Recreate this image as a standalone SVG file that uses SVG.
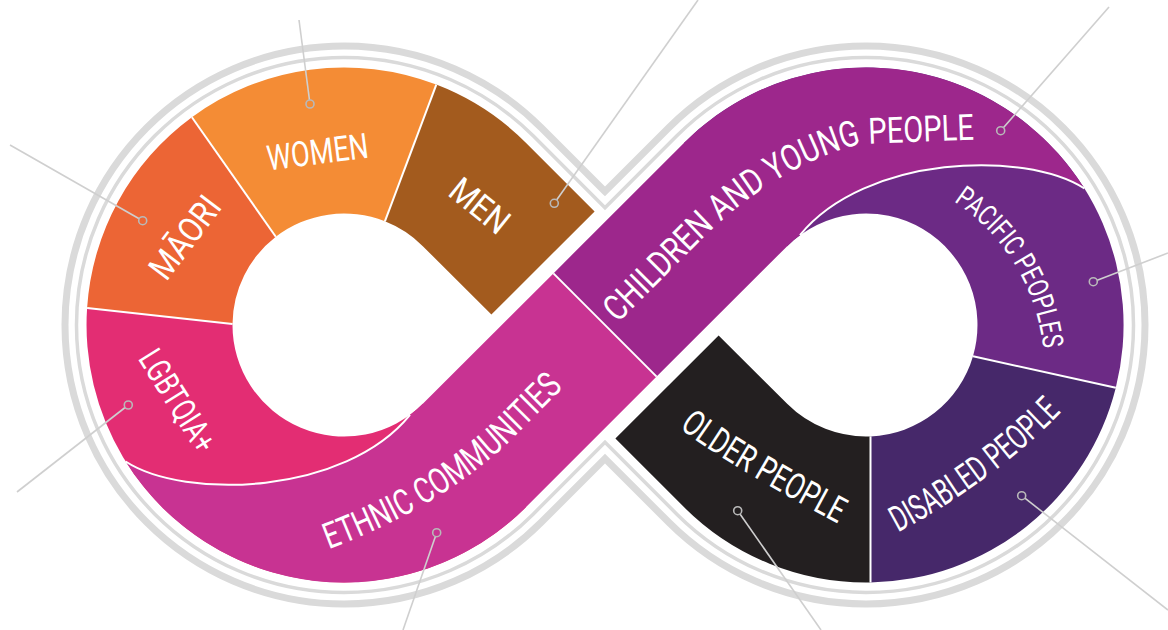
<svg xmlns="http://www.w3.org/2000/svg" xmlns:xlink="http://www.w3.org/1999/xlink" width="1168" height="630" viewBox="0 0 1168 630">
<style>
.lbl{font-family:"Roboto","Liberation Sans",sans-serif;font-weight:400;fill:#ffffff;}
.ring{fill:none;stroke:#dadada;stroke-linejoin:miter;}
.div{fill:none;stroke:#ffffff;stroke-width:2;}
.lead{stroke:#cfcfcf;stroke-width:1.6;fill:none;}
.dot{stroke:#b9b9b9;stroke-width:1.6;}
</style>
<defs>
<path id="p-eth" d="M 310,556 C 390,528 450,495 505,446 L 600,351"/>
<path id="p-chi" d="M 600,341 L 700,241 C 735,206 790,162 860,144 L 990,139"/>
<path id="p-pac" d="M 943.5,195.1 A 202 202 0 0 1 1041.4,405.1"/>
<path id="p-old" d="M 668,418 Q 706,454 848,529"/>
<path id="p-dis" d="M 885.6,539.1 Q 1005.5,477 1079.9,392"/>
<path id="eth-shape" d="M 125.6,461.5 A 257.5 257.5 0 0 0 526.08,507.08 L 656.6,376.6 L 553.4,273.4 L 422.84,403.84 A 111.5 111.5 0 0 1 410,414.9 C 345,495 185,500 125.6,461.5 Z"/>
</defs>

<g id="rings">
<path class="ring" stroke-width="3.5" d="M 605,207.7 L 533.15,135.85 A 267.5 267.5 0 1 0 533.15,514.15 L 605,442.3 L 676.85,514.15 A 267.5 267.5 0 1 0 676.85,135.85 Z"/>
<path class="ring" stroke-width="7" d="M 605,191.4 L 541.28,127.72 A 279 279 0 1 0 541.28,522.28 L 605,458.6 L 668.72,522.28 A 279 279 0 1 0 668.72,127.72 Z"/>
</g>

<g id="lgbtqia">
<path fill="#e32d73" d="M 232.5,324 A 111.5 111.5 0 0 0 422.84,403.84 L 526.08,507.08 A 257.5 257.5 0 0 1 87.1,307.9 Z"/>
<text class="lbl" font-size="34" text-anchor="middle" textLength="114" lengthAdjust="spacingAndGlyphs" transform="translate(167.8,406.9) rotate(58)">LGBTQIA+</text>
</g>
<g id="maori">
<path fill="#ec6535" d="M 87.1,307.9 A 257.5 257.5 0 0 1 191.9,117.2 L 275.8,236.8 A 111.5 111.5 0 0 0 232.5,324 Z"/>
<text class="lbl" font-size="35" text-anchor="middle" textLength="94" lengthAdjust="spacingAndGlyphs" transform="translate(194.6,244.7) rotate(-53)">MĀORI</text>
</g>
<g id="women">
<path fill="#f48c35" d="M 191.9,117.2 A 257.5 257.5 0 0 1 436.3,84.6 L 384.9,221.3 A 111.5 111.5 0 0 0 275.8,236.8 Z"/>
<text class="lbl" font-size="35" text-anchor="middle" textLength="102" lengthAdjust="spacingAndGlyphs" transform="translate(319.1,163.9) rotate(-7.3)">WOMEN</text>
</g>
<g id="men">
<path fill="#a35b1e" d="M 436.3,84.6 A 257.5 257.5 0 0 1 526.08,142.92 L 594.6,211.4 L 491.4,314.6 L 422.84,246.16 A 111.5 111.5 0 0 0 384.9,221.3 Z"/>
<text class="lbl" font-size="35" text-anchor="middle" textLength="66" lengthAdjust="spacingAndGlyphs" transform="translate(472.1,215.2) rotate(39)">MEN</text>
</g>
<g id="pacific">
<path fill="#6c2a85" d="M 973,356.3 L 1115.8,387.7 A 257.5 257.5 0 0 0 683.92,142.92 L 787.16,246.16 A 111.5 111.5 0 0 1 973,356.3 Z"/>
<text class="lbl" font-size="29"><textPath xlink:href="#p-pac" href="#p-pac" startOffset="12" textLength="178" lengthAdjust="spacingAndGlyphs">PACIFIC PEOPLES</textPath></text>
</g>
<g id="disabled">
<path fill="#46286a" d="M 870.5,582.5 A 257.5 257.5 0 0 0 1115.8,387.7 L 973,356.3 A 111.5 111.5 0 0 1 870.5,436.4 Z"/>
<text class="lbl" font-size="36"><textPath xlink:href="#p-dis" href="#p-dis" startOffset="14" textLength="204" lengthAdjust="spacingAndGlyphs">DISABLED PEOPLE</textPath></text>
</g>
<g id="older">
<path fill="#231f20" d="M 870.5,582.5 A 257.5 257.5 0 0 1 683.92,507.08 L 615.4,438.6 L 718.6,335.4 L 787.16,403.84 A 111.5 111.5 0 0 0 870.5,436.4 Z"/>
<text class="lbl" font-size="36"><textPath xlink:href="#p-old" href="#p-old" startOffset="15" textLength="186" lengthAdjust="spacingAndGlyphs">OLDER PEOPLE</textPath></text>
</g>
<g id="ethnic">
<use xlink:href="#eth-shape" href="#eth-shape" fill="#c83392"/>
<text class="lbl" font-size="36"><textPath xlink:href="#p-eth" href="#p-eth" startOffset="20" textLength="288" lengthAdjust="spacingAndGlyphs">ETHNIC COMMUNITIES</textPath></text>
</g>
<g id="children">
<use xlink:href="#eth-shape" href="#eth-shape" fill="#9d278c" transform="rotate(180 605 325)"/>
<text class="lbl" font-size="36"><textPath xlink:href="#p-chi" href="#p-chi" startOffset="25" textLength="420" lengthAdjust="spacingAndGlyphs">CHILDREN AND YOUNG PEOPLE</textPath></text>
</g>

<g id="dividers">
<line class="div" x1="436.3" y1="84.6" x2="384.9" y2="221.3"/>
<line class="div" x1="191.9" y1="117.2" x2="275.8" y2="236.8"/>
<line class="div" x1="87.1" y1="307.9" x2="232.5" y2="324"/>
<line class="div" x1="553.4" y1="273.4" x2="656.6" y2="376.6"/>
<path class="div" d="M 410,414.9 C 345,495 185,500 125.6,461.5"/>
<path class="div" d="M 410,414.9 C 345,495 185,500 125.6,461.5" transform="rotate(180 605 325)"/>
<line class="div" x1="973" y1="356.3" x2="1115.8" y2="387.7"/>
<line class="div" x1="870.5" y1="436.4" x2="870.5" y2="582.5"/>
</g>

<g id="connectors">
<line class="lead" x1="299" y1="20" x2="310" y2="104"/>
<circle class="dot" cx="310" cy="104" r="4" fill="#f48c35"/>
<line class="lead" x1="10" y1="145" x2="142.7" y2="220.7"/>
<circle class="dot" cx="142.7" cy="220.7" r="4" fill="#ec6535"/>
<line class="lead" x1="698" y1="0" x2="554.3" y2="203.3"/>
<circle class="dot" cx="554.3" cy="203.3" r="4" fill="#a35b1e"/>
<line class="lead" x1="1109" y1="7" x2="1000.7" y2="130.7"/>
<circle class="dot" cx="1000.7" cy="130.7" r="4" fill="#9d278c"/>
<line class="lead" x1="1168" y1="253" x2="1093.3" y2="281.7"/>
<circle class="dot" cx="1093.3" cy="281.7" r="4" fill="#6c2a85"/>
<line class="lead" x1="17" y1="492" x2="128.3" y2="405"/>
<circle class="dot" cx="128.3" cy="405" r="4" fill="#e32d73"/>
<line class="lead" x1="403" y1="630" x2="436.7" y2="532.7"/>
<circle class="dot" cx="436.7" cy="532.7" r="4" fill="#c83392"/>
<line class="lead" x1="821" y1="630" x2="737.7" y2="510.7"/>
<circle class="dot" cx="737.7" cy="510.7" r="4" fill="#231f20"/>
<line class="lead" x1="1168" y1="610" x2="1021.7" y2="495.7"/>
<circle class="dot" cx="1021.7" cy="495.7" r="4" fill="#46286a"/>
</g>
</svg>
